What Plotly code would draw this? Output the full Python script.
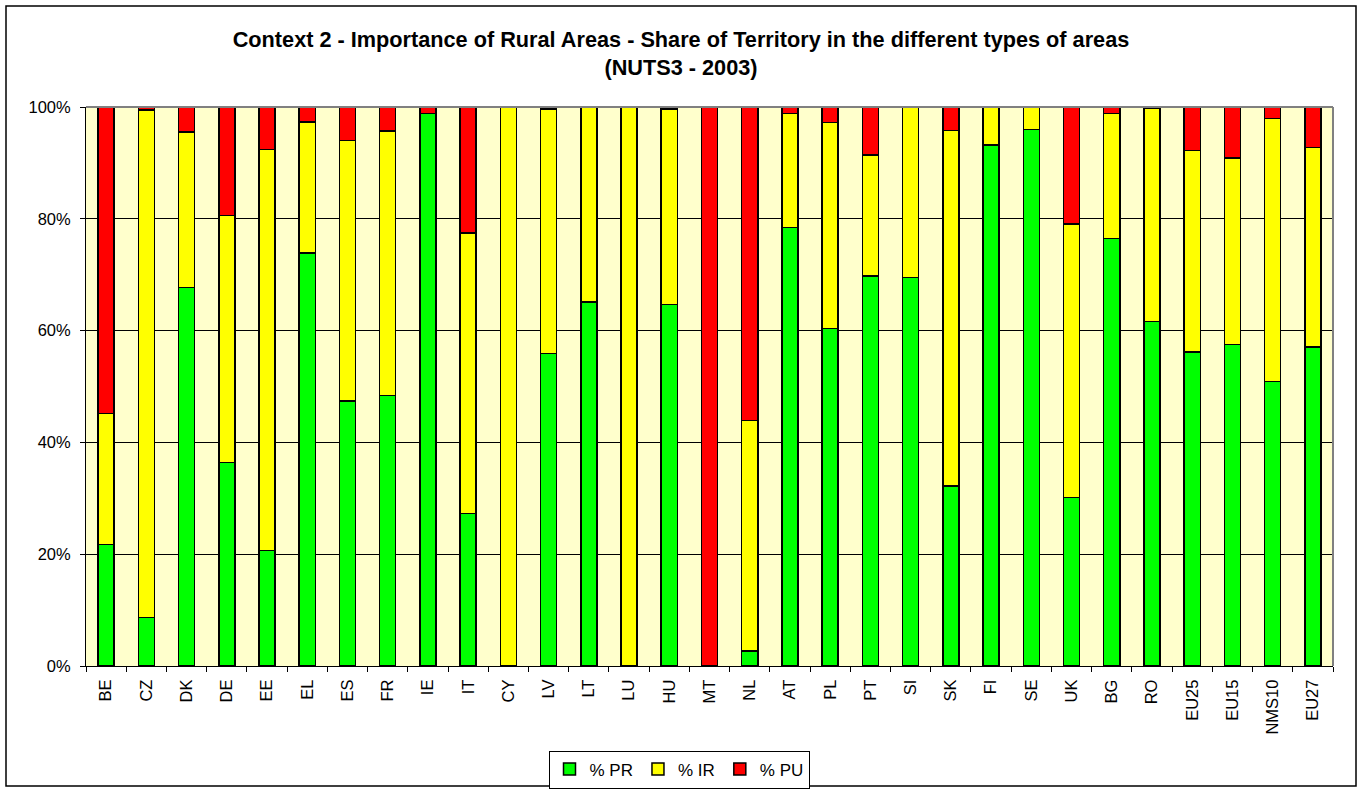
import plotly.graph_objects as go

categories = ["BE", "CZ", "DK", "DE", "EE", "EL", "ES", "FR", "IE", "IT", "CY", "LV", "LT", "LU",
              "HU", "MT", "NL", "AT", "PL", "PT", "SI", "SK", "FI", "SE", "UK", "BG", "RO",
              "EU25", "EU15", "NMS10", "EU27"]

pr = [21.7, 8.7, 67.7, 36.4, 20.7, 73.9, 47.4, 48.4, 98.8, 27.3, 0.0, 55.9, 65.1, 0.0,
      64.7, 0.0, 2.7, 78.4, 60.4, 69.8, 69.5, 32.2, 93.2, 96.0, 30.1, 76.5, 61.6,
      56.2, 57.5, 50.9, 57.1]
ir = [23.5, 90.8, 27.8, 44.2, 71.7, 23.4, 46.6, 47.3, 0.0, 50.2, 100.0, 43.7, 34.9, 100.0,
      34.9, 0.0, 41.2, 20.4, 36.8, 21.6, 30.5, 63.6, 6.8, 4.0, 49.0, 22.3, 38.2,
      36.0, 33.4, 47.0, 35.7]
pu = [54.8, 0.5, 4.5, 19.4, 7.6, 2.7, 6.0, 4.3, 1.2, 22.5, 0.0, 0.4, 0.0, 0.0,
      0.4, 100.0, 56.1, 1.2, 2.8, 8.6, 0.0, 4.2, 0.0, 0.0, 20.9, 1.2, 0.15,
      7.8, 9.1, 2.1, 7.2]

series_names = ["% PR", "% IR", "% PU"]
series_colors = ["#00FF00", "#FFFF00", "#FF0000"]

FONT = "Liberation Sans, Arial, Helvetica, sans-serif"

fig = go.Figure()
for name, vals, col in zip(series_names, [pr, ir, pu], series_colors):
    fig.add_trace(go.Bar(
        x=categories, y=vals, name=name,
        marker=dict(color=col, line=dict(color="black", width=1.5)),
        hovertemplate="%{x}: %{y:.1f}%<extra>" + name + "</extra>",
    ))

W, H = 1362, 789
L, R, T, B = 86, 29, 107, 123
pw, ph = W - L - R, H - T - B

def px2paper_x(px):
    return (px - L) / pw

def px2paper_y(py):
    return (H - B - py) / ph

fig.update_layout(
    width=W, height=H,
    barmode="stack",
    bargap=0.6,
    margin=dict(l=L, r=R, t=T, b=B, pad=0, autoexpand=False),
    paper_bgcolor="white",
    plot_bgcolor="#FFFFCC",
    font=dict(family=FONT, color="black", size=16),
    title=dict(
        text="Context 2 - Importance of Rural Areas - Share of Territory in the different types of areas<br>(NUTS3 - 2003)",
        x=0.5, xref="container", xanchor="center",
        y=1 - 47 / H, yref="container", yanchor="top",
        font=dict(family=FONT, size=21.7, color="black", weight="bold"),
    ),
    showlegend=True,
    legend=dict(
        orientation="h",
        xref="container", yref="container",
        x=679 / W, xanchor="center",
        y=1 - 769.5 / H, yanchor="middle",
        bgcolor="white", bordercolor="black", borderwidth=1,
        font=dict(family=FONT, size=17, color="black"),
        itemwidth=30, tracegroupgap=0,
        traceorder="normal",
    ),
    xaxis=dict(
        type="category",
        tickangle=-90,
        ticks="outside", ticklen=5, tickcolor="black", tickwidth=1,
        tickson="boundaries",
        showline=True, linecolor="black", linewidth=1,
        showgrid=False,
        tickfont=dict(family=FONT, size=16.5, color="black"),
        ticklabelstandoff=6,
        automargin=False,
    ),
    yaxis=dict(
        range=[0, 100],
        dtick=20, ticksuffix="%",
        ticks="outside", ticklen=5, tickcolor="black", tickwidth=1,
        showline=True, linecolor="black", linewidth=1,
        showgrid=True, gridcolor="black", gridwidth=1,
        zeroline=False,
        tickfont=dict(family=FONT, size=16.5, color="black"),
        ticklabelstandoff=6,
        automargin=False,
    ),
    shapes=[
        # plot area border (grey)
        dict(type="line", xref="paper", yref="paper", x0=0, x1=1, y0=1, y1=1,
             line=dict(color="#808080", width=2), layer="above"),
        dict(type="line", xref="paper", yref="paper", x0=1, x1=1, y0=0, y1=1,
             line=dict(color="#808080", width=2), layer="above"),
        # outer chart border
        dict(type="rect", xref="paper", yref="paper",
             x0=px2paper_x(6), x1=px2paper_x(1356),
             y0=px2paper_y(786), y1=px2paper_y(6),
             line=dict(color="black", width=1.5), fillcolor="rgba(0,0,0,0)", layer="below"),
    ],
)

fig.write_html(
    "out.html",
    config={"displayModeBar": False},
    post_script="document.body.style.margin='0';document.body.style.overflow='hidden';",
)
